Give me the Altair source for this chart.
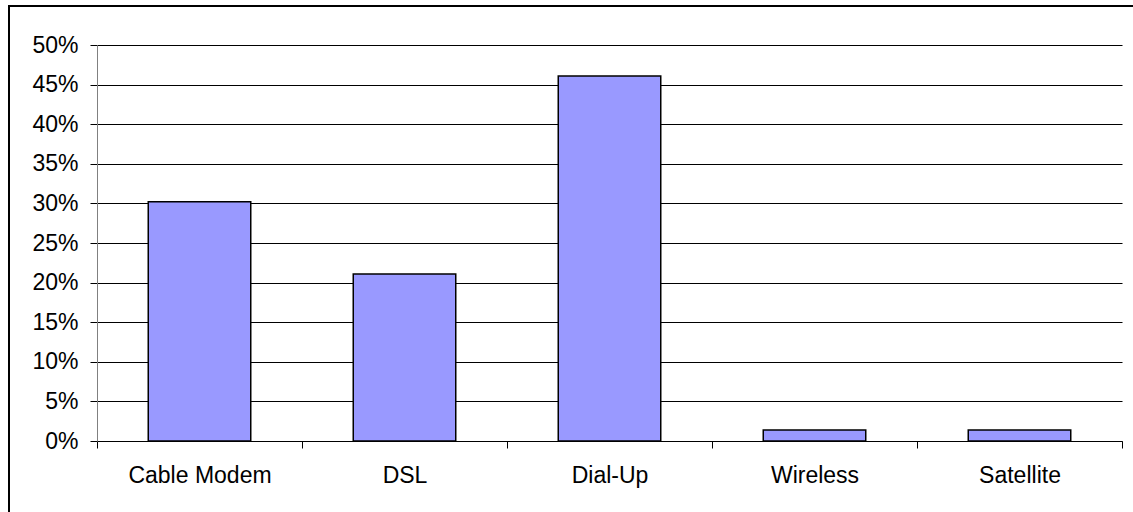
import altair as alt
import pandas as pd

categories = ["Cable Modem", "DSL", "Dial-Up", "Wireless", "Satellite"]
shares = [0.302, 0.211, 0.461, 0.014, 0.014]
y_ticks = [0, 0.05, 0.10, 0.15, 0.20, 0.25, 0.30, 0.35, 0.40, 0.45, 0.50]

df = pd.DataFrame({"cat": categories, "share": shares})

FONT = "Liberation Sans"

bars = alt.Chart(df).mark_bar(
    fill="#9999FF", stroke="#000000", strokeWidth=1.5,
    width=alt.RelativeBandSize(0.5),
).encode(
    x=alt.X(
        "cat:N",
        sort=categories,
        scale=alt.Scale(paddingInner=0, paddingOuter=0),
        axis=alt.Axis(
            title=None, labelAngle=0, tickBand="extent", ticks=True, tickSize=7,
            tickColor="#000000", domainColor="#000000", labelPadding=16,
            labelFont=FONT, labelFontSize=23, labelColor="#000000", grid=False,
        ),
    ),
    y=alt.Y(
        "share:Q",
        scale=alt.Scale(domain=[0, 0.5], nice=False),
        axis=alt.Axis(
            title=None, values=y_ticks, format=".0%", tickSize=7,
            tickColor="#000000", domainColor="#808080", labelPadding=12,
            labelFont=FONT, labelFontSize=23, labelColor="#000000",
            grid=True, gridColor="#000000", gridWidth=1,
        ),
    ),
)

border = alt.Chart(alt.Data(values=[{}])).mark_rect(
    fill=None, stroke="#000000", strokeWidth=2
).encode(
    x=alt.value(-88), x2=alt.value(1060), y=alt.value(-39), y2=alt.value(490)
)

chart = alt.layer(bars, border).properties(
    width=1025, height=396,
    autosize=alt.AutoSizeParams(type="none"),
    padding={"left": 97, "top": 45, "right": 11, "bottom": 71},
    background="#FFFFFF",
).configure_view(stroke=None)

chart.save("out.html", embed_options={"renderer": "svg", "actions": False})
